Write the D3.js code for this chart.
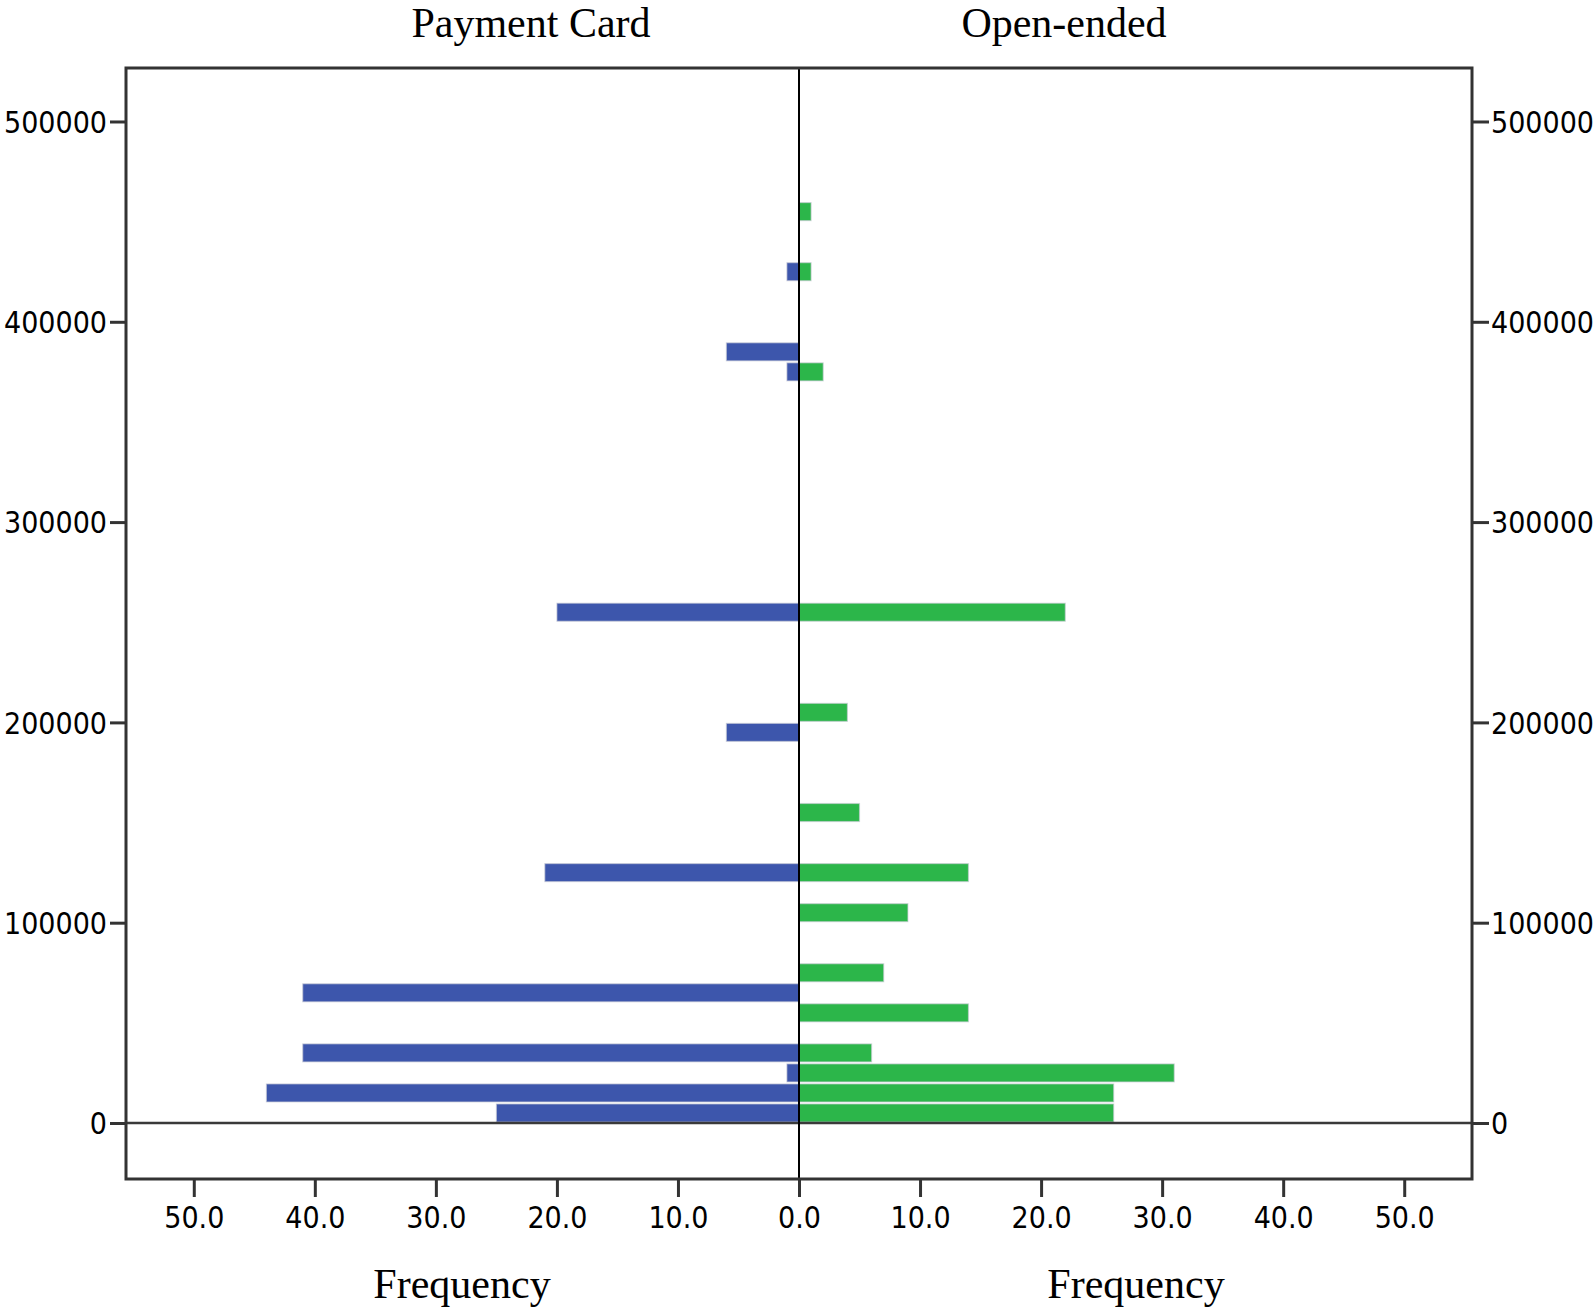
<!DOCTYPE html>
<html><head><meta charset="utf-8">
<script src="https://cdn.jsdelivr.net/npm/d3@7"></script>
<style>html,body{margin:0;padding:0;background:#fff;overflow:hidden}</style>
</head><body>
<svg id="c" width="1594" height="1308"></svg>
<script>
const binWidth = 10000;
const paymentBins = [0, 10000, 20000, 30000, 60000, 120000, 190000, 250000, 370000, 380000, 420000];
const paymentFreq = [25, 44, 1, 41, 41, 21, 6, 20, 1, 6, 1];
const openBins = [0, 10000, 20000, 30000, 50000, 70000, 100000, 120000, 150000, 200000, 250000, 370000, 420000, 450000];
const openFreq = [26, 26, 31, 6, 14, 7, 9, 14, 5, 4, 22, 2, 1, 1];
const panelTitles = ["Payment Card", "Open-ended"];
const yTicks = [0, 100000, 200000, 300000, 400000, 500000];
const xTicksLeft = [0, 10, 20, 30, 40, 50];
const xTicksRight = [10, 20, 30, 40, 50];
const xLabel = "Frequency";

const svg = d3.select("#c");
const L = 126, R = 1472, T = 68, B = 1179, C = 799;
const y = d3.scaleLinear().domain([-27960, 526700]).range([B, T]);
const xl = d3.scaleLinear().domain([0, 55.6]).range([C, L]);
const xr = d3.scaleLinear().domain([0, 55.6]).range([C, R]);

const blue = "#3d56ac", green = "#2cb64a";

function bars(bins, freq, xs, color, left) {
  svg.append("g").selectAll("rect").data(bins.map((b, i) => ({b, f: freq[i]}))).join("rect")
    .attr("x", d => left ? xs(d.f) : xs(0))
    .attr("width", d => Math.abs(xs(d.f) - xs(0)))
    .attr("y", d => y(d.b + binWidth) + 1)
    .attr("height", d => y(d.b) - y(d.b + binWidth) - 2)
    .attr("fill", color)
    .attr("stroke", "#c9cbd6").attr("stroke-opacity", 0.6).attr("stroke-width", 1.2);
}
bars(paymentBins, paymentFreq, xl, blue, true);
bars(openBins, openFreq, xr, green, false);

const tickStroke = "#333";
const sans = "'DejaVu Sans Condensed', 'DejaVu Sans', sans-serif";
const ga = svg.append("g").attr("transform", `translate(${L},0)`)
  .call(d3.axisLeft(y).tickValues(yTicks).tickFormat(d3.format("d")).tickSize(16).tickPadding(3));
const gb = svg.append("g").attr("transform", `translate(${R},0)`)
  .call(d3.axisRight(y).tickValues(yTicks).tickFormat(d3.format("d")).tickSize(17).tickPadding(2));
const gc = svg.append("g").attr("transform", `translate(0,${B})`)
  .call(d3.axisBottom(xl).tickValues(xTicksLeft).tickFormat(d3.format(".1f")).tickSize(18).tickPadding(7));
const gd = svg.append("g").attr("transform", `translate(0,${B})`)
  .call(d3.axisBottom(xr).tickValues(xTicksRight).tickFormat(d3.format(".1f")).tickSize(18).tickPadding(7));
[ga, gb, gc, gd].forEach(g => {
  g.select(".domain").remove();
  g.selectAll(".tick line").attr("stroke", tickStroke).attr("stroke-width", 3);
  g.selectAll(".tick text").attr("fill", "#000").style("font-family", sans)
    .style("font-stretch", "condensed").style("font-size", "30px");
});
[ga, gb].forEach(g => g.selectAll(".tick text").attr("dy", "0.36em"));
[gc, gd].forEach(g => g.selectAll(".tick text").attr("dy", "0.8em"));

svg.append("line").attr("x1", L).attr("x2", R).attr("y1", y(0)).attr("y2", y(0))
  .attr("stroke", "#3a3a3a").attr("stroke-width", 2.5);
svg.append("line").attr("x1", C).attr("x2", C).attr("y1", T).attr("y2", B)
  .attr("stroke", "#000").attr("stroke-width", 2);
svg.append("rect").attr("x", L).attr("y", T).attr("width", R - L).attr("height", B - T)
  .attr("fill", "none").attr("stroke", "#333").attr("stroke-width", 3);

const serif = "'Liberation Serif', 'Times New Roman', serif";
svg.append("text").attr("x", 531).attr("y", 37).attr("text-anchor", "middle")
  .style("font-family", serif).style("font-size", "42px").text(panelTitles[0]);
svg.append("text").attr("x", 1064).attr("y", 37).attr("text-anchor", "middle")
  .style("font-family", serif).style("font-size", "42px").text(panelTitles[1]);
svg.append("text").attr("x", 462).attr("y", 1298).attr("text-anchor", "middle")
  .style("font-family", serif).style("font-size", "42px").text(xLabel);
svg.append("text").attr("x", 1136).attr("y", 1298).attr("text-anchor", "middle")
  .style("font-family", serif).style("font-size", "42px").text(xLabel);
</script>
</body></html>
